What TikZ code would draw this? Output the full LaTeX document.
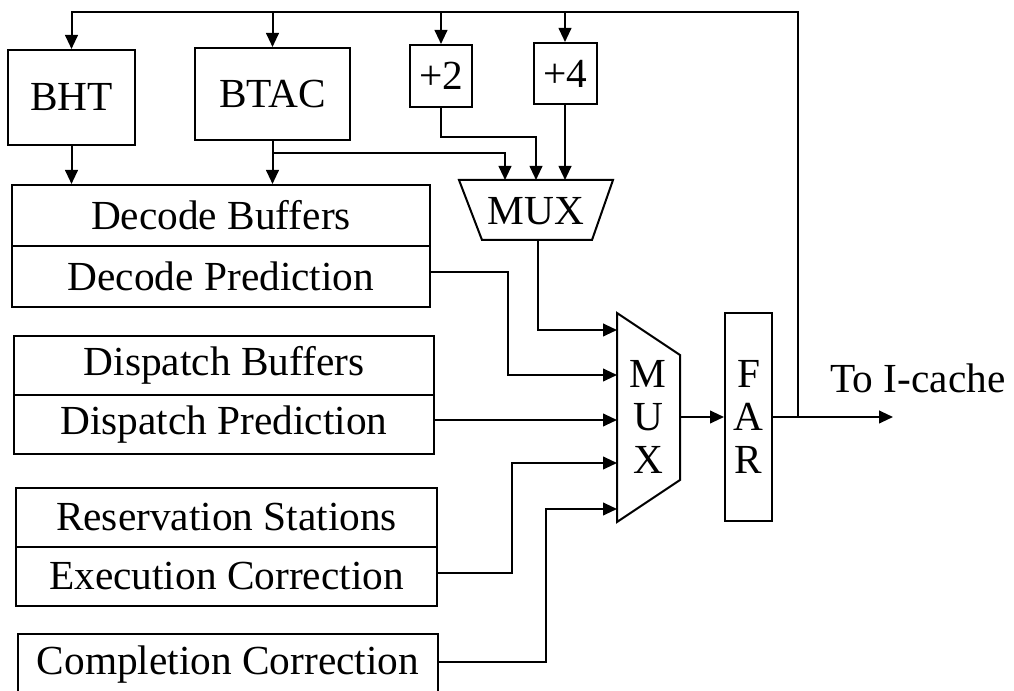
\documentclass[tikz,border=0pt]{standalone}
\usepackage{fontspec}
\setmainfont{Liberation Serif}
\usetikzlibrary{arrows.meta}

\begin{document}
\begin{tikzpicture}[x=0.75pt, y=-0.75pt, line width=1.5pt,
  every node/.style={font=\fontsize{31}{32}\selectfont},
  box/.style={draw, inner sep=0pt},
  sz/.style 2 args={minimum width=#1*0.75pt, minimum height=#2*0.75pt},
  arr/.style={-{Triangle[length=10.5pt, width=9.5pt]}},
  stack/.style={align=center, inner sep=0pt}]
\useasboundingbox (0,0) rectangle (1014,691);

% table lookups and incrementers
\node[box, sz={127}{95}] (bht)  at (71.5,97.5) {BHT};
\node[box, sz={155}{92}] (btac) at (272.5,94)  {BTAC};
\node[box, sz={62}{62}]  (p2)   at (441,76)    {+2};
\node[box, sz={63}{61}]  (p4)   at (565,73.5)  {+4};

% pipeline buffers with their prediction / correction stages
\node[box, sz={418}{61}] (decb)  at (221,215.5)  {Decode Buffers};
\node[box, sz={418}{61}] (decp)  at (221,276.5)  {Decode Prediction};
\node[box, sz={420}{59}] (dispb) at (224,365.5)  {Dispatch Buffers};
\node[box, sz={420}{59}] (dispp) at (224,424.5)  {Dispatch Prediction};
\node[box, sz={421}{59}] (resb)  at (226.5,517.5){Reservation Stations};
\node[box, sz={421}{59}] (exep)  at (226.5,576.5){Execution Correction};
\node[box, sz={420}{62}] (comp)  at (228,665)    {Completion Correction};

% first-level multiplexer
\coordinate (m1a) at (505,180);
\coordinate (m1b) at (536,180);
\coordinate (m1c) at (565,180);
\coordinate (m1out) at (538,240);
\draw (459,180) -- (613,180) -- (592,240) -- (482,240) -- cycle;
\node (mux1) at (536,211) {MUX};

% second-level multiplexer
\draw (617,313) -- (680,355) -- (680,480) -- (617,522) -- cycle;
\node[stack] (mux2) at (648,417) {M\\U\\X};
\coordinate (in1) at (617,330);
\coordinate (in2) at (617,375);
\coordinate (in3) at (617,420);
\coordinate (in4) at (617,463);
\coordinate (in5) at (617,509);
\coordinate (m2out) at (680,417);

% fetch address register
\node[box, sz={47}{208}] (far) at (748.5,417) {};
\node[stack] at (far.center) {F\\A\\R};

\node (icache) at (918,378) {To I-cache};
\coordinate (iend) at (893,417);
\coordinate (tap) at (798,417);
\coordinate (topright) at (798,12);

% bends of the routed connectors
\coordinate (bj) at (272.5,153);
\coordinate (b2) at (508,375);
\coordinate (b4) at (512,463);
\coordinate (b5) at (546,509);

% fetch address feedback loop
\draw[arr] (far.east) -- (iend);
\draw[arr] (tap) -- (topright) -| (bht.north);
\draw[arr] (btac.north |- topright) -- (btac.north);
\draw[arr] (p2.north |- topright) -- (p2.north);
\draw[arr] (p4.north |- topright) -- (p4.north);

% table outputs
\draw[arr] (bht.south) -- (bht.south |- decb.north);
\draw[arr] (btac.south) -- (btac.south |- decb.north);
\draw[arr] (bj) -| (m1a);
\draw[arr] (p2.south) -- ++(0,29) -| (m1b);
\draw[arr] (p4.south) -- (p4.south |- m1c);

% inputs of the second-level multiplexer
\draw[arr] (m1out) |- (in1);
\draw[arr] ([yshift=3pt]decp.east) -| (b2) -- (in2);
\draw[arr] (dispp.east |- in3) -- (in3);
\draw[arr] ([yshift=3pt]exep.east) -| (b4) -- (in4);
\draw[arr] ([yshift=2pt]comp.east) -| (b5) -- (in5);
\draw[arr] (m2out) -- (far.west |- m2out);
\end{tikzpicture}
\end{document}
